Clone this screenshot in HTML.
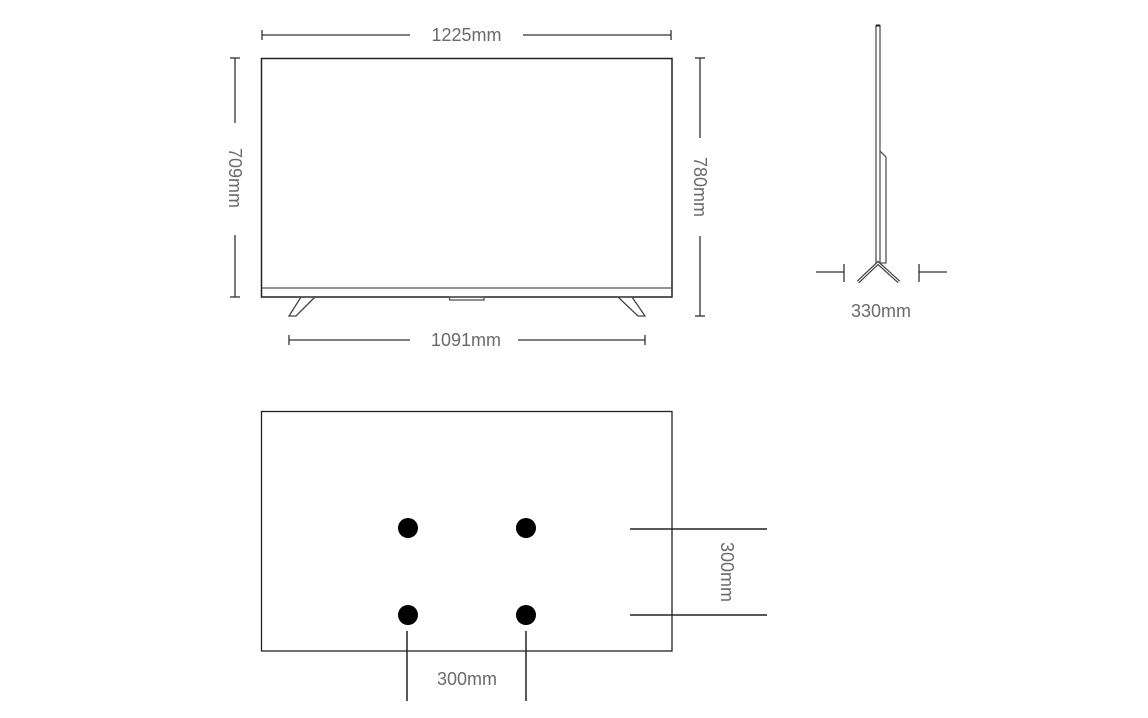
<!DOCTYPE html>
<html><head><meta charset="utf-8"><style>
html,body{margin:0;padding:0;background:#fff;}
svg{display:block;}
text{font-family:"Liberation Sans",sans-serif;font-size:18px;fill:#6a6a6a;}
</style></head><body>
<svg width="1148" height="718" viewBox="0 0 1148 718" xmlns="http://www.w3.org/2000/svg">
<g stroke="#333" stroke-width="1.3" fill="none">
  <line x1="262" y1="35" x2="410" y2="35"/>
  <line x1="523" y1="35" x2="671" y2="35"/>
  <line x1="262" y1="30" x2="262" y2="40"/>
  <line x1="671" y1="30" x2="671" y2="40"/>
  <rect x="261.5" y="58.5" width="410.5" height="238.5" stroke="#222" stroke-width="1.5"/>
  <line x1="262" y1="288" x2="672" y2="288" stroke="#555"/>
  <rect x="449.5" y="297" width="34.5" height="3" stroke="#555"/>
  <polygon points="301,297 315,297 296,316 289,316" stroke="#444"/>
  <polygon points="618,297 632,297 645,316 638,316" stroke="#444"/>
  <line x1="235" y1="58" x2="235" y2="123"/>
  <line x1="235" y1="235" x2="235" y2="297"/>
  <line x1="230" y1="58" x2="240" y2="58"/>
  <line x1="230" y1="297" x2="240" y2="297"/>
  <line x1="700" y1="58" x2="700" y2="138"/>
  <line x1="700" y1="236" x2="700" y2="316"/>
  <line x1="695" y1="58" x2="705" y2="58"/>
  <line x1="695" y1="316" x2="705" y2="316"/>
  <line x1="289" y1="340" x2="410" y2="340"/>
  <line x1="518" y1="340" x2="645" y2="340"/>
  <line x1="289" y1="335" x2="289" y2="345"/>
  <line x1="645" y1="335" x2="645" y2="345"/>
  <rect x="876" y="25.5" width="4" height="238" stroke="#555"/>
  <line x1="876" y1="25.5" x2="880" y2="25.5" stroke="#222" stroke-width="2"/>
  <polyline points="880,151 886,157 886,263 880,263" stroke="#555"/>
  <polyline points="858,282 878,263 899,282" stroke="#444" stroke-width="3.5"/>
  <polyline points="858,282 878,263 899,282" stroke="#fff" stroke-width="1"/>
  <line x1="816" y1="272" x2="844" y2="272"/>
  <line x1="844" y1="264" x2="844" y2="282"/>
  <line x1="919" y1="272" x2="947" y2="272"/>
  <line x1="919" y1="264" x2="919" y2="282"/>
  <rect x="261.5" y="411.5" width="410.5" height="239.5" stroke="#222" stroke-width="1.3"/>
  <line x1="630" y1="529" x2="767" y2="529" stroke="#222" stroke-width="1.5"/>
  <line x1="630" y1="615" x2="767" y2="615" stroke="#222" stroke-width="1.5"/>
  <line x1="407" y1="631" x2="407" y2="701" stroke="#222" stroke-width="1.5"/>
  <line x1="526" y1="631" x2="526" y2="701" stroke="#222" stroke-width="1.5"/>
</g>
<g fill="#000">
  <circle cx="408" cy="528" r="10"/>
  <circle cx="526" cy="528" r="10"/>
  <circle cx="408" cy="615" r="10"/>
  <circle cx="526" cy="615" r="10"/>
</g>
<text x="466.5" y="41" text-anchor="middle">1225mm</text>
<text x="466" y="346" text-anchor="middle">1091mm</text>
<text x="881" y="317" text-anchor="middle">330mm</text>
<text x="467" y="685" text-anchor="middle">300mm</text>
<text transform="translate(229,178) rotate(90)" text-anchor="middle">709mm</text>
<text transform="translate(694,187) rotate(90)" text-anchor="middle">780mm</text>
<text transform="translate(721,572) rotate(90)" text-anchor="middle">300mm</text>
</svg>
</body></html>
